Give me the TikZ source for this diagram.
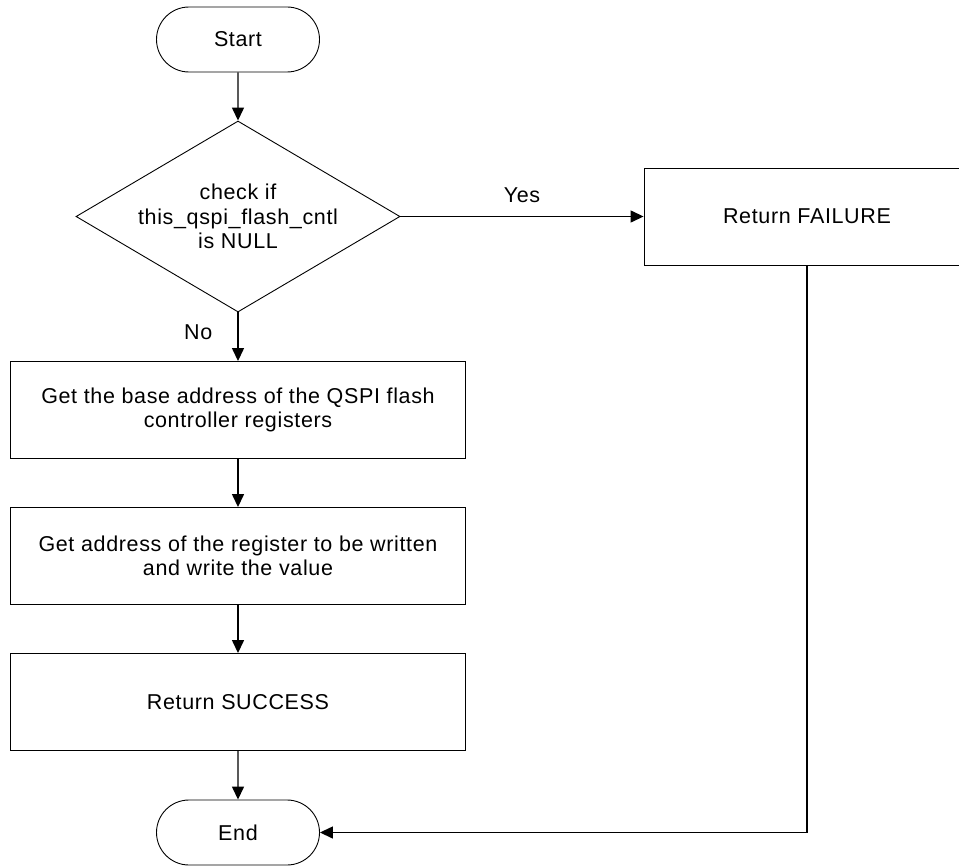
\documentclass[tikz,border=0pt]{standalone}
\usepackage{fontspec}
\setmainfont{Liberation Sans}[LetterSpace=3]
\usetikzlibrary{shapes.geometric, shapes.misc, arrows.meta, positioning}

\begin{document}
\begin{tikzpicture}[x=1pt,y=-1pt,>={Triangle[length=13pt,width=12pt]},node distance=146pt,
                    every node/.style={font=\fontsize{21.5}{24.5}\selectfont},
                    term node/.style={rounded rectangle,draw,line width=0.9pt,minimum width=163pt,minimum height=65pt,inner sep=0pt},
                    test node/.style={diamond,draw,line width=0.9pt,aspect=1.7,minimum width=324pt,minimum height=191pt,inner sep=0pt,align=center},
                    box node/.style={rectangle,draw,line width=0.9pt,minimum width=455pt,minimum height=97pt,inner sep=0pt,align=center},
                    lbl/.style={inner sep=0pt},
                    flow/.style={->,line width=1.4pt}]

  \useasboundingbox (0,0) rectangle (959,867);

  \node[term node] (start) at (238,39.5) {Start};
  \node[test node] (check) [below of=start, node distance=177pt] {check if\\this\_qspi\_flash\_cntl\\is NULL};
  \node[box node] (fail) [right of=check, node distance=569pt, minimum width=326pt] {Return FAILURE};
  \node[box node] (base) [below of=check, node distance=193.5pt] {Get the base address of the QSPI flash\\controller registers};
  \node[box node] (addr) [below of=base] {Get address of the register to be written\\and write the value};
  \node[box node] (ret) [below of=addr] {Return SUCCESS};
  \node[term node] (end) [below of=ret, node distance=130.5pt] {End};

  \draw[flow] (start) -- (check);
  \draw[flow] (check) -- node[lbl, above=13pt] {Yes} (fail);
  \draw[flow] (check) -- node[lbl, pos=0.4, left=25pt] {No} (base);
  \draw[flow] (base) -- (addr);
  \draw[flow] (addr) -- (ret);
  \draw[flow] (ret) -- (end);
  \draw[flow] (fail.south) |- (end.east);
\end{tikzpicture}
\end{document}
